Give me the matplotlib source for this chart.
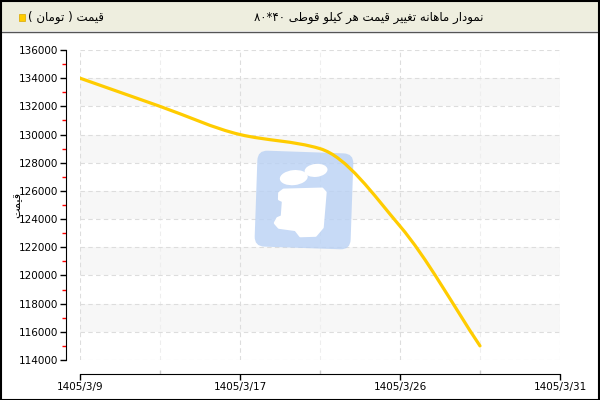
import matplotlib
matplotlib.use("Agg")
import matplotlib.pyplot as plt
import matplotlib.patches as mpatches
import matplotlib.transforms as mtransforms
from matplotlib.path import Path
import numpy as np

# data
dates = ["1405/3/9", "", "1405/3/17", "", "1405/3/26", "", "1405/3/31"]
prices = [134000, 132000, 130000, 129000, 123500, 115000]

title_words = ["نمودار", "ماهانه", "تغییر", "قیمت", "هر", "کیلو", "قوطی"]
title_size = "۸۰*۴۰"
legend_name = "قیمت"
legend_unit = "تومان"
y_title = "قیمت"

# no bidi / shaping in matplotlib, so pick presentation forms by hand
forms = {
    'ا': ('\uFE8D', '\uFE8E', None, None),
    'د': ('\uFEA9', '\uFEAA', None, None),
    'ر': ('\uFEAD', '\uFEAE', None, None),
    'و': ('\uFEED', '\uFEEE', None, None),
    'ت': ('\uFE95', '\uFE96', '\uFE97', '\uFE98'),
    'ط': ('\uFEC1', '\uFEC2', '\uFEC3', '\uFEC4'),
    'غ': ('\uFECD', '\uFECE', '\uFECF', '\uFED0'),
    'ق': ('\uFED5', '\uFED6', '\uFED7', '\uFED8'),
    'ل': ('\uFEDD', '\uFEDE', '\uFEDF', '\uFEE0'),
    'م': ('\uFEE1', '\uFEE2', '\uFEE3', '\uFEE4'),
    'ن': ('\uFEE5', '\uFEE6', '\uFEE7', '\uFEE8'),
    'ه': ('\uFEE9', '\uFEEA', '\uFEEB', '\uFEEC'),
    'ک': ('\uFB8E', '\uFB8F', '\uFB90', '\uFB91'),
    'ی': ('\uFBFC', '\uFBFD', '\uFBFE', '\uFBFF'),
}


def shape(word):
    out = []
    for i, c in enumerate(word):
        if c not in forms:
            out.append(c)
            continue
        p = i > 0 and word[i - 1] in forms and forms[word[i - 1]][2] is not None
        n = forms[c][2] is not None and i + 1 < len(word) and word[i + 1] in forms
        if p and n:
            out.append(forms[c][3])
        elif p:
            out.append(forms[c][1])
        elif n:
            out.append(forms[c][2])
        else:
            out.append(forms[c][0])
    return "".join(out[::-1])


def smooth_path(xs, ys):
    # monotone cubic (Fritsch-Carlson) drawn as bezier segments
    xs = np.asarray(xs, float)
    ys = np.asarray(ys, float)
    d = np.diff(ys) / np.diff(xs)
    m = np.zeros(len(xs))
    m[0], m[-1] = d[0], d[-1]
    for i in range(1, len(xs) - 1):
        if d[i - 1] * d[i] > 0:
            m[i] = 2 / (1 / d[i - 1] + 1 / d[i])
    verts = [(xs[0], ys[0])]
    codes = [Path.MOVETO]
    for i in range(len(xs) - 1):
        h = xs[i + 1] - xs[i]
        verts += [(xs[i] + h / 3, ys[i] + m[i] * h / 3),
                  (xs[i + 1] - h / 3, ys[i + 1] - m[i + 1] * h / 3),
                  (xs[i + 1], ys[i + 1])]
        codes += [Path.CURVE4] * 3
    return Path(verts, codes)


plt.rcParams['font.family'] = ['DejaVu Sans']

fig = plt.figure(figsize=(6, 4), dpi=100)
ax = fig.add_axes([80 / 600, 40 / 400, 480 / 600, 310 / 400])

# header bar
fig.patches.append(mpatches.Rectangle((0, 369 / 400), 1, 31 / 400, transform=fig.transFigure,
                                      facecolor='#eeeedf', edgecolor='none', zorder=0))
fig.lines.append(plt.Line2D([0, 1], [368.5 / 400, 368.5 / 400], transform=fig.transFigure,
                            color='#555555', lw=1))
fig.patches.append(mpatches.Rectangle((0.001, 0.001), 0.997, 0.997, transform=fig.transFigure,
                                      facecolor='none', edgecolor='black', lw=1.5, zorder=5))

title_txt = title_size + " " + " ".join(shape(w) for w in reversed(title_words))
fig.text(484 / 600, 1 - 17 / 400, title_txt, ha='right', va='center', fontsize=8.5)
fig.patches.append(mpatches.Rectangle((19 / 600, 1 - 20.5 / 400), 6 / 600, 6 / 400,
                                      transform=fig.transFigure, facecolor='#ffcc00',
                                      edgecolor='#d9a800', lw=0.5))
fig.text(28 / 600, 1 - 17 / 400, "( " + shape(legend_unit) + " ) " + shape(legend_name),
         ha='left', va='center', fontsize=8.5)

x = np.arange(len(prices))
ax.set_xlim(0, len(dates) - 1)
ax.set_ylim(114000, 136000)

# alternating bands
for lo in range(116000, 136000, 4000):
    ax.axhspan(lo, lo + 2000, color='#f7f7f7', zorder=0, lw=0)

# watermark logo (pixel coords, y down)
px = mtransforms.Affine2D().rotate_deg_around(304, 200, 2).scale(1, -1).translate(0, 400)
logo_tr = px + fig.dpi_scale_trans.inverted() + fig.dpi_scale_trans
logo_tr = px
box = mpatches.FancyBboxPatch((266, 162), 76, 76, boxstyle="round,pad=10,rounding_size=10",
                              transform=logo_tr, facecolor='#b9d1f4', edgecolor='none',
                              alpha=0.8, zorder=1)
ax.add_patch(box)
ax.add_patch(mpatches.Ellipse((293, 178), 28, 15, angle=-8, transform=logo_tr,
                              facecolor='white', edgecolor='none', zorder=1.1))
ax.add_patch(mpatches.Ellipse((315, 170), 23, 13, angle=-8, transform=logo_tr,
                              facecolor='white', edgecolor='none', zorder=1.1))
body = [(279.3, 194), (283.3, 190.7), (321.7, 188.3), (325, 191.7), (323.3, 226.7),
        (316.7, 235), (301.7, 236), (296.7, 230), (280, 228.3), (276, 224),
        (278.3, 219.3), (282.7, 217.3), (283.3, 201.7), (279.3, 200)]
ax.add_patch(mpatches.Polygon(body, closed=True, transform=logo_tr, facecolor='white',
                              edgecolor='white', lw=2, joinstyle='round', zorder=1.1))

# price line
ax.add_patch(mpatches.PathPatch(smooth_path(x, prices), fill=False, edgecolor='#ffcc00',
                                lw=2.3, capstyle='round', zorder=3))

# grid
ax.set_xticks([0, 2, 4, 6])
ax.set_xticklabels([dates[i] for i in [0, 2, 4, 6]])
ax.set_xticks([1, 3, 5], minor=True)
ax.set_yticks(np.arange(114000, 136001, 2000))
ax.set_yticks(np.arange(115000, 136000, 2000), minor=True)
ax.grid(True, which='major', color='#dddddd', ls=(0, (4, 3)), lw=0.8, zorder=0.5)
ax.grid(True, which='minor', axis='x', color='#eeeeee', ls=(0, (4, 3)), lw=0.8, zorder=0.5)
ax.set_axisbelow(True)

for s in ['top', 'right']:
    ax.spines[s].set_visible(False)
ax.spines['left'].set_position(('outward', 10))
ax.spines['bottom'].set_position(('outward', 10))
ax.spines['left'].set_bounds(114000, 136000)
ax.spines['bottom'].set_bounds(0, 6)

ax.tick_params(axis='both', which='major', length=4, width=1, color='black',
               labelsize=7.5, pad=1.5)
ax.tick_params(axis='y', which='minor', length=3, width=1, color='#ff0000')
ax.tick_params(axis='x', which='minor', direction='in', length=3, width=1, color='#cccccc')

ax.set_ylabel(shape(y_title), fontsize=8, labelpad=8)
ax.yaxis.set_label_coords(-58 / 480, 0.5)

fig.savefig("out.png", dpi=100)
